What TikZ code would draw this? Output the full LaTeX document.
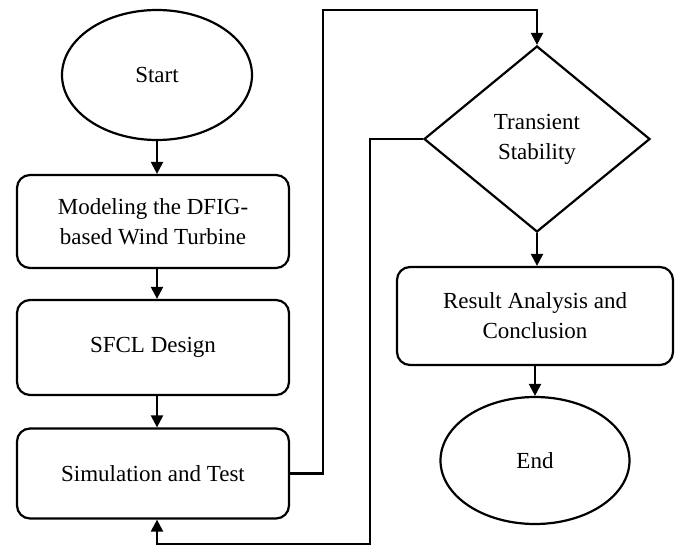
\documentclass[tikz,border=0pt]{standalone}
\usepackage{fontspec}
\setmainfont{Liberation Serif}
\usetikzlibrary{shapes.geometric,arrows.meta}
\begin{document}
\begin{tikzpicture}[x=1pt,y=1pt,
  base/.style={draw=black,line width=2.2pt,inner sep=0pt,align=center,
    font=\fontsize{23}{30}\selectfont},
  term/.style={base,ellipse,minimum width=190pt,minimum height=130pt},
  proc/.style={base,rectangle,rounded corners=13pt,minimum width=272pt,minimum height=93pt},
  dec/.style={base,diamond,aspect=1.215,minimum width=226pt,minimum height=186pt},
  arr/.style={line width=2.2pt,-{Triangle[length=12pt,width=12pt]}}]
\useasboundingbox (0,0) rectangle (681,-546);
\node[term] (start) at (157,-75) {Start};
\node[proc] (b1) at (153,-221.5) {Modeling the DFIG-\\based Wind Turbine};
\node[proc,minimum height=95pt] (b2) at (153,-347.5) {SFCL Design};
\node[proc,minimum height=90pt] (b3) at (153,-473.5) {Simulation and Test};
\node[dec] (dia) at (537,-139) {Transient\\Stability};
\node[proc,minimum width=276pt,minimum height=98pt] (b4) at (535,-316) {Result Analysis and\\Conclusion};
\node[term,minimum width=189pt,minimum height=127pt] (end) at (535,-460.5) {End};
\coordinate (t1) at (323,-10);
\coordinate (f1) at (370,-544);
\draw[arr] (start.south) -- (start.south |- b1.north);
\draw[arr] (b1.south -| start.south) -- (b2.north -| start.south);
\draw[arr] (b2.south -| start.south) -- (b3.north -| start.south);
\draw[arr] (b3.east) -| (t1) -| (dia.north);
\draw[arr] (dia.west) -| (f1) -| (b3.south -| start.south);
\draw[arr] (dia.south) -- (dia.south |- b4.north);
\draw[arr] (b4.south) -- (end.north);
\end{tikzpicture}
\end{document}
